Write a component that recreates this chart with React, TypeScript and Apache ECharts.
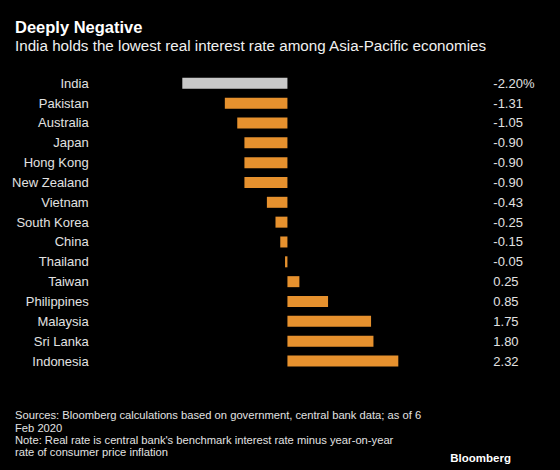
import React, { useEffect, useRef } from "react";
import * as echarts from "echarts";

const countries = [
  "India", "Pakistan", "Australia", "Japan", "Hong Kong", "New Zealand", "Vietnam",
  "South Korea", "China", "Thailand", "Taiwan", "Philippines", "Malaysia", "Sri Lanka", "Indonesia",
];
const realRates = [-2.2, -1.31, -1.05, -0.9, -0.9, -0.9, -0.43, -0.25, -0.15, -0.05, 0.25, 0.85, 1.75, 1.8, 2.32];
const highlighted = "India";
const valueLabels = realRates.map((v, i) => v.toFixed(2) + (i === 0 ? "%" : ""));

const titleText = "Deeply Negative";
const subtitleText = "India holds the lowest real interest rate among Asia-Pacific economies";
const footerLines = [
  "Sources: Bloomberg calculations based on government, central bank data; as of 6",
  "Feb 2020",
  "Note: Real rate is central bank's benchmark interest rate minus year-on-year",
  "rate of consumer price inflation",
];

const FONT = "'Liberation Sans', Arial, sans-serif";
const ORANGE = "#e6912e";
const GRAY = "#c8c8c8";
const TEXT = "#e2e2e2";

export default function App() {
  const ref = useRef<HTMLDivElement>(null);
  useEffect(() => {
    if (!ref.current) return;
    const chart = echarts.init(ref.current, null, { renderer: "svg" });
    const rowH = 277.7 / 14;
    chart.setOption({
      animation: false,
      backgroundColor: "#000",
      textStyle: { fontFamily: FONT },
      grid: { left: 182.3, width: 216, top: 83.3 - rowH / 2, height: rowH * 15, containLabel: false },
      xAxis: {
        type: "value",
        min: -2.2,
        max: 2.32,
        show: false,
        splitLine: { show: false },
      },
      yAxis: [
        {
          type: "category",
          data: countries,
          inverse: true,
          position: "left",
          axisLine: { show: false },
          axisTick: { show: false },
          axisLabel: { color: TEXT, fontSize: 13, fontFamily: FONT, margin: 93.6 },
        },
        {
          type: "category",
          data: valueLabels,
          inverse: true,
          position: "right",
          axisLine: { show: false },
          axisTick: { show: false },
          axisLabel: { color: TEXT, fontSize: 13, fontFamily: FONT, margin: 95, align: "left" },
        },
      ],
      series: [
        {
          type: "bar",
          yAxisIndex: 0,
          barWidth: 11,
          data: realRates.map((v, i) => ({
            value: v,
            itemStyle: { color: countries[i] === highlighted ? GRAY : ORANGE },
          })),
        },
      ],
      graphic: [
        {
          type: "text",
          x: 15,
          y: 26.6,
          style: { text: titleText, fill: "#fff", font: `bold 16.5px ${FONT}`, verticalAlign: "middle" },
        },
        {
          type: "text",
          x: 15,
          y: 45.4,
          style: { text: subtitleText, fill: "#f0f0f0", font: `15.2px ${FONT}`, verticalAlign: "middle" },
        },
        {
          type: "text",
          x: 15,
          y: 409.3,
          style: {
            text: footerLines.join("\n"),
            fill: TEXT,
            font: `11.2px ${FONT}`,
            lineHeight: 12.2,
            verticalAlign: "top",
          },
        },
        {
          type: "text",
          x: 511,
          y: 457.8,
          style: { text: "Bloomberg", fill: "#fff", font: `bold 11.5px ${FONT}`, align: "right", verticalAlign: "middle" },
        },
      ],
    });
    return () => chart.dispose();
  }, []);
  return (
    <div
      ref={ref}
      style={{ position: "fixed", left: 0, top: 0, width: 560, height: 470, background: "#000" }}
    />
  );
}
